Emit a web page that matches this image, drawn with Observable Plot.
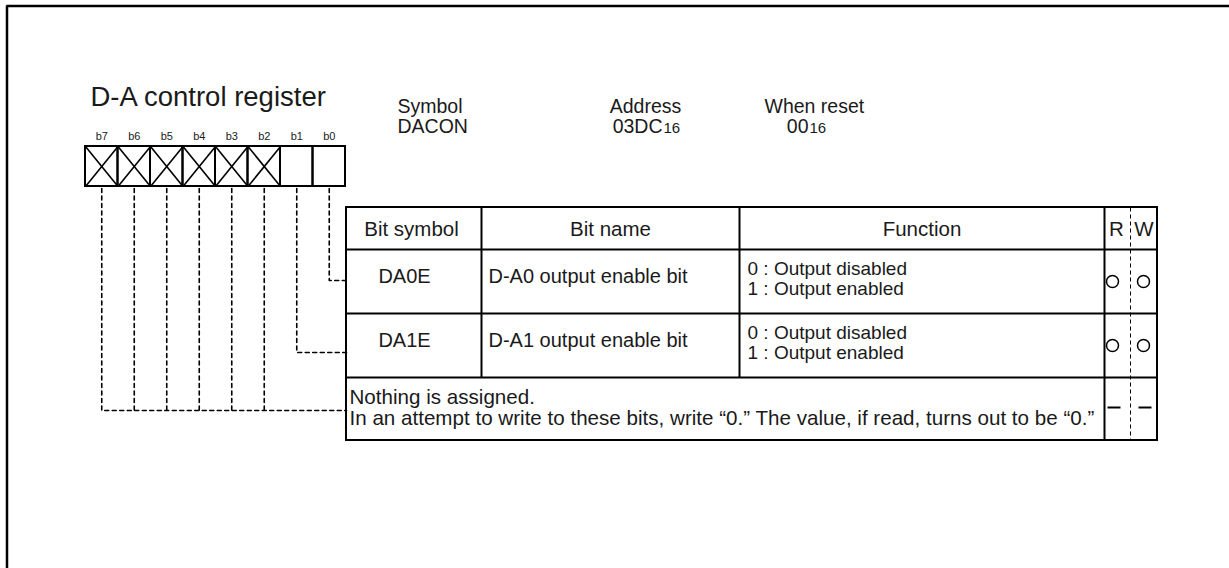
<!DOCTYPE html>
<html><head><meta charset="utf-8">
<script src="https://cdn.jsdelivr.net/npm/d3@7"></script>
<script src="https://cdn.jsdelivr.net/npm/@observablehq/plot@0.6"></script>
<style>body{margin:0;background:#fff}</style>
</head><body><div id="chart"></div>
<script>
// ---- data ----
const title = "D-A control register";
const bits = ["b7","b6","b5","b4","b3","b2","b1","b0"];
const reserved = [true,true,true,true,true,true,false,false];
const metaLabels = ["Symbol","Address","When reset"];
const metaValues = ["DACON","03DC","00"];
const metaSubscripts = ["","16","16"];
const headers = ["Bit symbol","Bit name","Function","R","W"];
const rowBits = ["b0","b1"];
const bitSymbols = ["DA0E","DA1E"];
const bitNames = ["D-A0 output enable bit","D-A1 output enable bit"];
const functionLines = [["0 : Output disabled","1 : Output enabled"],["0 : Output disabled","1 : Output enabled"]];
const readWrite = [["O","O"],["O","O"],["-","-"]];
const reservedNote = ["Nothing is assigned.","In an attempt to write to these bits, write \u201c0.\u201d The value, if read, turns out to be \u201c0.\u201d"];

// ---- layout (pixels) ----
const W = 1229, H = 568;
const FONT = "'Liberation Sans', Arial, Helvetica, sans-serif";
const INK = "#000", TXT = "#1a1a1a";
const REG = {x0: 85, cw: 32.5, y0: 146, y1: 186};
const TBL = {x0: 346, x1: 1157, y0: 207, rowY: [249, 313, 377, 440], colX: [481, 739, 1104], rwX: 1130};
const headerX = [411, 610, 921.5, 1116, 1143.5];
const rowTops = [TBL.rowY[0], TBL.rowY[1]];
const rwCx = [1112, 1143];

const cx = i => REG.x0 + REG.cw * (i + 0.5);
const cells = bits.map((b, i) => ({bit: b, reserved: reserved[i], x1: REG.x0 + i * REG.cw, x2: REG.x0 + (i + 1) * REG.cw, cx: cx(i)}));

// solid lines
const solid = [];
solid.push({x1: 6, y1: 5.5, x2: W, y2: 5.5, w: 2.5});
solid.push({x1: 6.5, y1: 5, x2: 6.5, y2: H, w: 2.5});
cells.filter(c => c.reserved).forEach(c => {
  solid.push({x1: c.x1, y1: REG.y0, x2: c.x2, y2: REG.y1, w: 1.6});
  solid.push({x1: c.x1, y1: REG.y1, x2: c.x2, y2: REG.y0, w: 1.6});
});
TBL.rowY.slice(0, 3).forEach(y => solid.push({x1: TBL.x0, y1: y, x2: TBL.x1, y2: y, w: 2}));
TBL.colX.slice(0, 2).forEach(x => solid.push({x1: x, y1: TBL.y0, x2: x, y2: TBL.rowY[2], w: 2}));
solid.push({x1: TBL.colX[2], y1: TBL.y0, x2: TBL.colX[2], y2: TBL.rowY[3], w: 2});

// connectors (dashed polylines)
const connY = {b0: TBL.rowY[0] + 31, b1: TBL.rowY[1] + 39, reserved: TBL.rowY[2] + 33};
const conn = [];
const firstReserved = cells.find(c => c.reserved);
cells.forEach(c => {
  const yEnd = c.reserved ? connY.reserved : connY[c.bit];
  conn.push({id: c.bit, x: c.cx, y: REG.y1 + 2});
  conn.push({id: c.bit, x: c.cx, y: yEnd});
  if (!c.reserved || c === firstReserved) conn.push({id: c.bit, x: TBL.x0, y: yEnd});
});

// text items
const texts = [];
texts.push({t: title, x: 90, y: 105, s: 27.5, a: "start"});
cells.forEach(c => texts.push({t: c.bit, x: c.cx, y: 139, s: 11, a: "middle"}));
const metaY = [112, 132];
const MS = 19.5, SS = 15;
texts.push({t: metaLabels[0], x: 397, y: metaY[0], s: MS, a: "start"});
texts.push({t: metaValues[0], x: 397, y: metaY[1], s: MS, a: "start"});
texts.push({t: metaLabels[1], x: 645, y: metaY[0], s: MS, a: "middle"});
texts.push({t: metaValues[1], x: 662, y: metaY[1], s: MS, a: "end"});
texts.push({t: metaSubscripts[1], x: 663, y: metaY[1], s: SS, a: "start"});
texts.push({t: metaLabels[2], x: 764, y: metaY[0], s: MS, a: "start"});
texts.push({t: metaValues[2], x: 808, y: metaY[1], s: MS, a: "end"});
texts.push({t: metaSubscripts[2], x: 809, y: metaY[1], s: SS, a: "start"});
headers.forEach((h, i) => texts.push({t: h, x: headerX[i], y: 235, s: 20.5, a: "middle"}));
rowBits.forEach((b, i) => {
  const top = rowTops[i];
  texts.push({t: bitSymbols[i], x: 404, y: top + 33, s: 20, a: "middle"});
  texts.push({t: bitNames[i], x: 488, y: top + 33, s: 20, a: "start"});
  functionLines[i].forEach((l, j) => texts.push({t: l, x: 747, y: top + 25 + 20.5 * j, s: 19, a: "start"}));
});
reservedNote.forEach((l, j) => texts.push({t: l, x: 349, y: TBL.rowY[2] + 26 + 21 * j, s: 20.6, a: "start"}));

// R/W marks
const circles = [], dashes = [];
readWrite.forEach((rw, i) => rw.forEach((v, k) => {
  if (v === "O") circles.push({x: rwCx[k], y: rowTops[i] + 32});
  else dashes.push({x1: rwCx[k] - 5, x2: rwCx[k] + 8, y: TBL.rowY[2] + 30});
}));

const textMark = anchor => Plot.text(texts.filter(d => d.a === anchor), {
  x: "x", y: "y", text: "t", fontSize: "s", textAnchor: anchor, lineAnchor: "bottom", fill: TXT
});

const chart = Plot.plot({
  width: W, height: H, margin: 0,
  x: {domain: [0, W], range: [0, W], axis: null},
  y: {domain: [0, H], range: [0, H], axis: null},
  style: {fontFamily: FONT, background: "#fff"},
  marks: [
    Plot.rect(cells, {x1: "x1", x2: "x2", y1: () => REG.y0, y2: () => REG.y1, fill: "none", stroke: INK, strokeWidth: 2}),
    Plot.rect([0], {x1: () => TBL.x0, x2: () => TBL.x1, y1: () => TBL.y0, y2: () => TBL.rowY[3], fill: "none", stroke: INK, strokeWidth: 2}),
    Plot.link(solid, {x1: "x1", y1: "y1", x2: "x2", y2: "y2", stroke: INK, strokeWidth: d => d.w}),
    Plot.link([0], {x1: () => TBL.rwX, x2: () => TBL.rwX, y1: () => TBL.y0, y2: () => TBL.rowY[3], stroke: INK, strokeWidth: 1, strokeDasharray: "4,3"}),
    Plot.line(conn, {x: "x", y: "y", z: "id", stroke: INK, strokeWidth: 1.6, strokeDasharray: "4,3.5", curve: "linear"}),
    Plot.dot(circles, {x: "x", y: "y", r: 6, stroke: INK, strokeWidth: 1.5, fill: "none"}),
    Plot.link(dashes, {x1: "x1", x2: "x2", y1: "y", y2: "y", stroke: INK, strokeWidth: 2}),
    textMark("start"), textMark("middle"), textMark("end")
  ]
});
document.getElementById("chart").appendChild(chart);
</script>
</body></html>
